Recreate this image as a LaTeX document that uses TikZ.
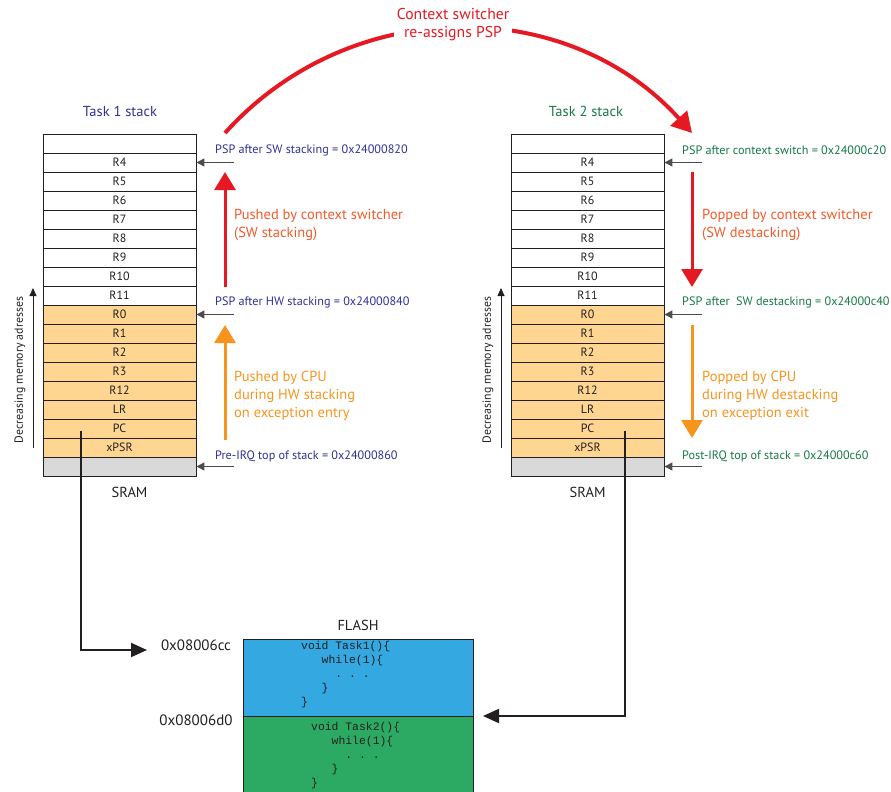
\documentclass[tikz,border=0pt]{standalone}
\usepackage{fontspec}
\setmainfont{PT Sans}
\setmonofont{Liberation Mono}
\usetikzlibrary{arrows.meta,calc}
\definecolor{taskone}{RGB}{46,49,146}
\definecolor{tasktwo}{RGB}{22,120,70}
\definecolor{ctxred}{RGB}{230,25,35}
\definecolor{swtext}{RGB}{241,90,41}
\definecolor{hworange}{RGB}{247,148,29}
\definecolor{hwfill}{RGB}{254,214,145}
\definecolor{freegray}{RGB}{217,217,217}
\definecolor{flashblue}{RGB}{52,168,224}
\definecolor{flashgreen}{RGB}{44,170,100}
\definecolor{edge}{RGB}{35,31,32}
\begin{document}
\begin{tikzpicture}[x=1pt,y=-1pt,
  cell/.style={draw=edge, line width=0.8pt, minimum width=153pt, minimum height=19pt,
    inner sep=0pt, text=edge, font=\fontsize{12}{14}\selectfont},
  ptr/.style={draw=edge!80, line width=0.9pt, -{Triangle[length=8pt,width=8pt]}},
  axisarrow/.style={draw=edge, line width=0.8pt, -{Triangle[length=8pt,width=7pt]}},
  psp/.style={anchor=west, inner sep=0pt, font=\fontsize{12.2}{14}\selectfont},
  note/.style={anchor=west, align=left, inner sep=0pt, font=\fontsize{14.5}{18}\selectfont},
  title/.style={inner sep=0pt, font=\fontsize{14.5}{16}\selectfont},
  swarrow/.style={draw=ctxred, line width=3pt, -{Triangle[length=18pt,width=21pt]}},
  hwarrow/.style={draw=hworange, line width=3pt, -{Triangle[length=18pt,width=21pt]}},
  ctxarrow/.style={draw=ctxred, line width=4pt, -{Triangle[length=20pt,width=22pt]}},
  fetch/.style={draw=edge, line width=2pt, -{Triangle[length=16pt,width=14pt]}},
  flashcell/.style={draw=edge, line width=0.8pt, minimum width=230pt, anchor=north west, inner sep=0pt},
  code/.style={anchor=north west, align=left, inner sep=0pt, text=edge,
    font=\ttfamily\fontsize{11.4}{14}\selectfont},
  addr/.style={inner sep=0pt, text=edge, font=\fontsize{15}{17}\selectfont},
  axislabel/.style={rotate=90, inner sep=0pt, text=edge, font=\fontsize{11.8}{13}\selectfont}
]
\useasboundingbox (0,0) rectangle (891,792);

% ---------- the two task stacks ----------
\foreach \side/\x in {L/43, T/511} {
  \foreach \lab [count=\i from 0] in {{},R4,R5,R6,R7,R8,R9,R10,R11}
    \node[cell, fill=white] (\side\i) at (\x+76.5, 143.5+19*\i) {\lab};
  \foreach \lab [count=\i from 9] in {R0,R1,R2,R3,R12,LR,PC,xPSR}
    \node[cell, fill=hwfill] (\side\i) at (\x+76.5, 143.5+19*\i) {\lab};
  \node[cell, fill=freegray] (\side17) at (\x+76.5, 143.5+19*17) {};
}

\node[title, text=taskone] (t1) at (120,111) {Task 1 stack};
\node[title, text=tasktwo] (t2) at (586,111) {Task 2 stack};
\node[title, text=edge] (sramL) at (129.5,492) {SRAM};
\node[title, text=edge] (sramT) at (587.5,492) {SRAM};

% address direction
\coordinate (axL0) at (33,448); \coordinate (axL1) at (33,288);
\coordinate (axT0) at (501,448); \coordinate (axT1) at (501,288);
\draw[axisarrow] (axL0) -- (axL1);
\draw[axisarrow] (axT0) -- (axT1);
\node[axislabel] (decL) at (20,370) {Decreasing memory adresses};
\node[axislabel] (decT) at (488,370) {Decreasing memory adresses};

% ---------- stack pointer marks ----------
\foreach \i in {1,9,17} {
  \coordinate (pL\i) at (234,143.5+19*\i);
  \draw[ptr] (pL\i) -- (L\i.east);
  \coordinate (pT\i) at (702,143.5+19*\i);
  \draw[ptr] (pT\i) -- (T\i.east);
}
\node[psp, text=taskone] (pspL1) at (215,150.5) {PSP after SW stacking = 0x24000820};
\node[psp, text=taskone] (pspL9) at (215,302.5) {PSP after HW stacking = 0x24000840};
\node[psp, text=taskone] (pspL17) at (215,456.5) {Pre-IRQ top of stack = 0x24000860};
\node[psp, text=tasktwo] (pspT1) at (682,150.5) {PSP after context switch = 0x24000c20};
\node[psp, text=tasktwo] (pspT9) at (682,302.5) {PSP after\ \ SW destacking = 0x24000c40};
\node[psp, text=tasktwo] (pspT17) at (682,456.5) {Post-IRQ top of stack = 0x24000c60};

% ---------- stacking / destacking arrows ----------
\coordinate (swL0) at (225,287); \coordinate (swL1) at (225,172);
\coordinate (hwL0) at (225,440); \coordinate (hwL1) at (225,325);
\coordinate (swT0) at (692,172); \coordinate (swT1) at (692,287);
\coordinate (hwT0) at (692,325); \coordinate (hwT1) at (692,438);
\draw[swarrow] (swL0) -- (swL1);
\draw[hwarrow] (hwL0) -- (hwL1);
\draw[swarrow] (swT0) -- (swT1);
\draw[hwarrow] (hwT0) -- (hwT1);
\node[note, text=swtext] (nswL) at (234,225) {Pushed by context switcher\\(SW stacking)};
\node[note, text=hworange] (nhwL) at (234,396) {Pushed by CPU\\during HW stacking\\on exception entry};
\node[note, text=swtext] (nswT) at (702,225) {Popped by context switcher\\(SW destacking)};
\node[note, text=hworange] (nhwT) at (702,396) {Popped by CPU\\during HW destacking\\on exception exit};

% ---------- context switch ----------
\coordinate (arcA) at (225,133);
\coordinate (arcB) at (692,133);
\draw[ctxarrow] (arcA) .. controls (350,-6) and (567,-6) .. (arcB);
\node[fill=white, inner sep=3pt, align=center, text=ctxred, font=\fontsize{15.7}{18}\selectfont] (ctx) at (453,25) {Context switcher\\re-assigns PSP};

% ---------- flash ----------
\node[flashcell, fill=flashblue, minimum height=77pt] (flash1) at (243,639) {};
\node[flashcell, fill=flashgreen, minimum height=84pt] (flash2) at (243,716) {};
\node[title, text=edge] (flash) at (358,625) {FLASH};
\node[addr] (a1) at (196,645) {0x08006cc};
\node[addr] (a2) at (196,720) {0x08006d0};
\node[code] (code1) at (301,641.5) {void Task1()\{\\\phantom{xxx}while(1)\{\\\phantom{xxxxx}. . .\\\phantom{xxx}\}\\\}};
\node[code] (code2) at (311,722.5) {void Task2()\{\\\phantom{xxx}while(1)\{\\\phantom{xxxxx}. . .\\\phantom{xxx}\}\\\}};

% saved PC of each task points to its code
\coordinate (pcL) at (81,431); \coordinate (tipL) at (147,650);
\coordinate (pcT) at (625,431); \coordinate (tipT) at (483,716);
\draw[fetch] (pcL) |- (tipL);
\draw[fetch] (pcT) |- (tipT);
\end{tikzpicture}
\end{document}
